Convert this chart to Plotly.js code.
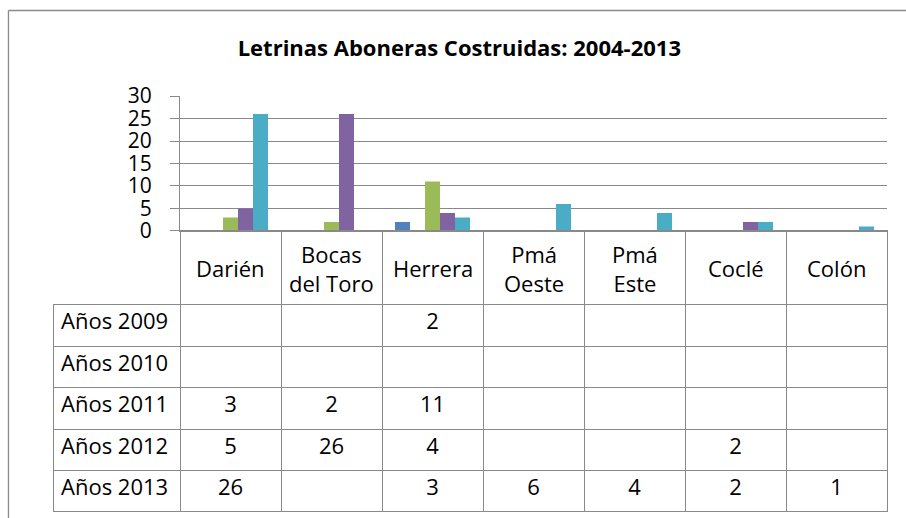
<!DOCTYPE html>
<html>
<head>
<meta charset="utf-8">
<script src="https://cdn.plot.ly/plotly-3.0.1.min.js"></script>
<style>html,body{margin:0;padding:0;background:#fff;}</style>
</head>
<body>
<div id="chart" style="width:906px;height:518px;"></div>
<script>
// ---- data ----
var categories = ['Darién', 'Bocas del Toro', 'Herrera', 'Pmá Oeste', 'Pmá Este', 'Coclé', 'Colón'];
var categoryLabels = ['Darién', 'Bocas<br>del Toro', 'Herrera', 'Pmá<br>Oeste', 'Pmá<br>Este', 'Coclé', 'Colón'];
var seriesNames = ['Años 2009', 'Años 2010', 'Años 2011', 'Años 2012', 'Años 2013'];
var y2009 = [null, null, 2, null, null, null, null];
var y2010 = [null, null, null, null, null, null, null];
var y2011 = [3, 2, 11, null, null, null, null];
var y2012 = [5, 26, 4, null, null, 2, null];
var y2013 = [26, null, 3, 6, 4, 2, 1];
var yTicks = [0, 5, 10, 15, 20, 25, 30];
var titleText = 'Letrinas Aboneras Costruidas: 2004-2013';

var seriesValues = [y2009, y2010, y2011, y2012, y2013];
var colors = ['#4F81BD', '#C0504D', '#9BBB59', '#8064A2', '#4BACC6'];

var FONT = 'Open Sans, Noto Sans, sans-serif';
var GRID = '#898989';

var traces = seriesValues.map(function (vals, i) {
  return {
    type: 'bar',
    name: seriesNames[i],
    x: categories,
    y: vals,
    marker: { color: colors[i] },
    xaxis: 'x',
    yaxis: 'y',
    hoverinfo: 'x+y+name'
  };
});

// table: columns = row label column + one column per category
var fmt = function (v) { return v === null ? '' : String(v); };
var nb = function (s) { return s.replace(/ /g, '\u00a0'); };
var cellColumns = [seriesNames.map(nb)];
categories.forEach(function (c, j) {
  cellColumns.push(seriesValues.map(function (s) { return fmt(s[j]); }));
});
var headerVals = [''].concat(categories.map(function () { return ''; }));
var headerLineColors = ['rgba(0,0,0,0)'].concat(categories.map(function () { return GRID; }));
var colWidths = [127].concat(categories.map(function () { return 101; }));

traces.push({
  type: 'table',
  domain: { x: [0, 1], y: [0, 0.6755] },
  columnwidth: colWidths,
  header: {
    values: headerVals,
    height: 74,
    line: { color: headerLineColors, width: 1 },
    fill: { color: 'rgba(0,0,0,0)' },
    font: { family: FONT, size: 22, color: '#000' }
  },
  cells: {
    values: cellColumns,
    height: 41.4,
    align: ['left'].concat(categories.map(function () { return 'center'; })),
    line: { color: GRID, width: 1 },
    fill: { color: 'rgba(0,0,0,0)' },
    font: { family: FONT, size: 22, color: '#000' }
  },
  hoverinfo: 'skip'
});

var annotations = categories.map(function (c, j) {
  return {
    xref: 'x', yref: 'paper',
    x: c, y: 0.5865,
    text: categoryLabels[j],
    showarrow: false,
    xanchor: 'center', yanchor: 'middle',
    font: { family: FONT, size: 22, color: '#000' }
  };
});

var layout = {
  width: 906,
  height: 518,
  margin: { l: 53, r: 19, t: 96, b: 6 },
  paper_bgcolor: '#fff',
  plot_bgcolor: '#fff',
  showlegend: false,
  bargap: 0.257,
  bargroupgap: 0,
  barmode: 'group',
  title: {
    text: '<b>' + titleText + '</b>',
    font: { family: FONT, size: 22, color: '#000' },
    xref: 'container', yref: 'container',
    x: 0.507, y: 0.907, xanchor: 'center', yanchor: 'middle'
  },
  xaxis: {
    domain: [127 / 834, 1],
    type: 'category',
    showticklabels: false,
    ticks: 'outside',
    tickson: 'boundaries',
    ticklen: 74,
    tickcolor: GRID,
    tickwidth: 1,
    showgrid: false,
    showline: true,
    linecolor: GRID,
    linewidth: 1,
    zeroline: false,
    fixedrange: true
  },
  yaxis: {
    domain: [0.6755, 1],
    range: [0, 30],
    tickvals: yTicks,
    ticktext: yTicks.map(String),
    ticks: 'outside',
    ticklen: 9,
    tickcolor: GRID,
    tickwidth: 1,
    ticklabelstandoff: 14,
    showgrid: true,
    gridcolor: GRID,
    gridwidth: 1,
    showline: true,
    linecolor: GRID,
    linewidth: 1,
    zeroline: false,
    tickfont: { family: FONT, size: 21, color: '#000' },
    fixedrange: true
  },
  annotations: annotations,
  shapes: [
    { type: 'line', xref: 'paper', yref: 'paper', x0: -0.0534, x1: -0.0534, y0: -0.05, y1: 1.2055,
      line: { color: '#8a8a8a', width: 1.3 } },
    { type: 'line', xref: 'paper', yref: 'paper', x0: -0.0534, x1: 1.05, y0: 1.2055, y1: 1.2055,
      line: { color: '#8a8a8a', width: 1.3 } }
  ]
};

Plotly.newPlot('chart', traces, layout, { displayModeBar: false, staticPlot: true });
</script>
</body>
</html>
